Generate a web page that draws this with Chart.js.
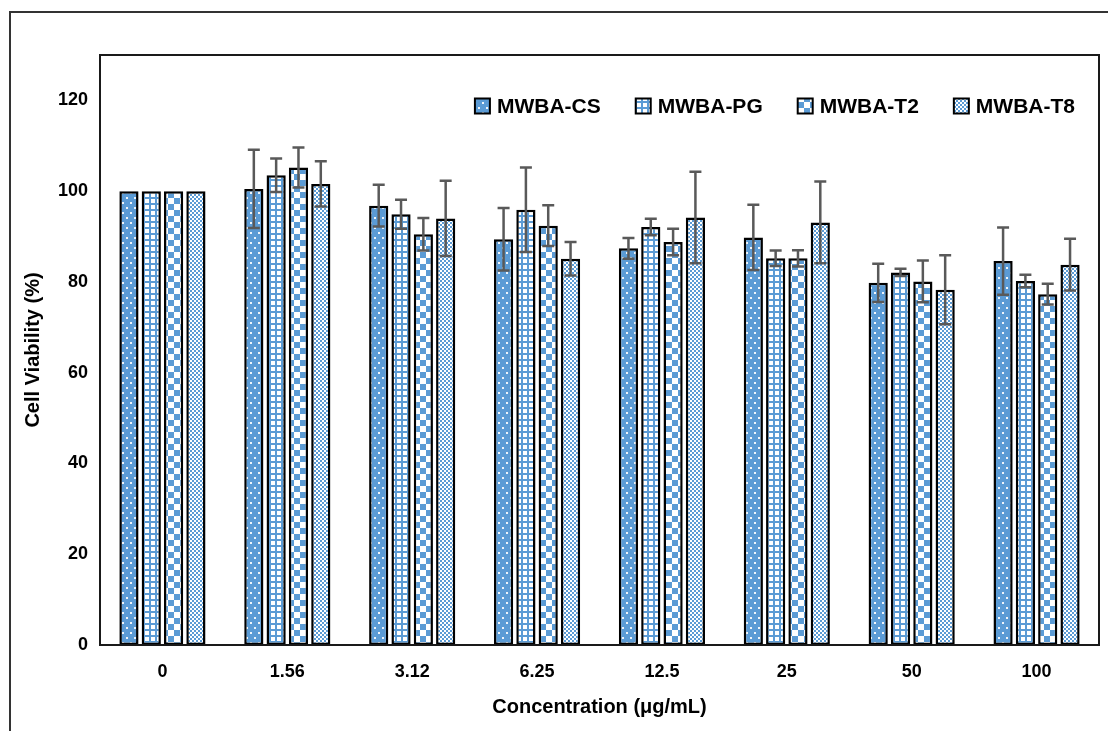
<!DOCTYPE html>
<html>
<head>
<meta charset="utf-8">
<script src="https://cdn.jsdelivr.net/npm/chart.js@4/dist/chart.umd.min.js"></script>
<style>
  html, body { margin: 0; padding: 0; background: #fff; }
  body { width: 1108px; height: 731px; position: relative; overflow: hidden; }
  .frame { position: absolute; left: 9px; top: 11px; width: 1200px; height: 800px;
           border-left: 2px solid #333; border-top: 2px solid #333; }
  #wrap { position: absolute; left: 0; top: 0; width: 1108px; height: 731px; }
</style>
</head>
<body>
<div class="frame"></div>
<div id="wrap"><canvas id="viabilityChart"></canvas></div>
<script>
// Data
var concentrations = ['0', '1.56', '3.12', '6.25', '12.5', '25', '50', '100'];
var seriesNames = ['MWBA-CS', 'MWBA-PG', 'MWBA-T2', 'MWBA-T8'];
var csValues = [100, 100.5, 96.8, 89.4, 87.4, 89.8, 79.8, 84.6];
var csErrors = [0, 8.6, 4.6, 6.9, 2.3, 7.2, 4.2, 7.4];
var pgValues = [100, 103.5, 94.9, 95.9, 92.1, 85.2, 82.1, 80.2];
var pgErrors = [0, 3.7, 3.2, 9.3, 1.8, 1.7, 0.8, 1.4];
var t2Values = [100, 105.2, 90.5, 92.4, 88.8, 85.2, 80.1, 77.3];
var t2Errors = [0, 4.4, 3.6, 4.5, 2.9, 1.8, 4.6, 2.3];
var t8Values = [100, 101.6, 94.0, 85.1, 94.2, 93.1, 78.3, 83.8];
var t8Errors = [0, 5.0, 8.3, 3.7, 10.1, 9.0, 7.6, 5.7];
var yTicks = [0, 20, 40, 60, 80, 100, 120];

var BLUE = '#5B9BD5';
var FONT = "'Liberation Sans', Arial, sans-serif";

// Fill patterns
function makeTile(w, h, draw) {
  var c = document.createElement('canvas');
  c.width = w; c.height = h;
  draw(c.getContext('2d'));
  return document.getElementById('viabilityChart').getContext('2d').createPattern(c, 'repeat');
}

var dotPattern = makeTile(8, 10, function (g) {
  g.fillStyle = BLUE; g.fillRect(0, 0, 8, 10);
  g.fillStyle = 'rgba(255,255,255,0.9)';
  g.fillRect(2, 2, 2, 2);
  g.fillRect(6, 7, 2, 2);
});
var gridPattern = makeTile(6, 6, function (g) {
  g.fillStyle = BLUE; g.fillRect(0, 0, 6, 6);
  g.fillStyle = '#fff'; g.fillRect(1, 1, 4, 4);
});
var checkPattern = makeTile(12, 12, function (g) {
  g.fillStyle = '#fff'; g.fillRect(0, 0, 12, 12);
  g.fillStyle = BLUE; g.fillRect(0, 0, 6, 6); g.fillRect(6, 6, 6, 6);
});
var finePattern = makeTile(4, 4, function (g) {
  g.fillStyle = '#fff'; g.fillRect(0, 0, 4, 4);
  g.fillStyle = BLUE; g.fillRect(0, 0, 2, 2); g.fillRect(2, 2, 2, 2);
});

var patterns = [dotPattern, gridPattern, checkPattern, finePattern];
var allValues = [csValues, pgValues, t2Values, t8Values];
var allErrors = [csErrors, pgErrors, t2Errors, t8Errors];

// Error bars drawn from the y scale
var errorBars = {
  id: 'errorBars',
  afterDatasetsDraw(chart) {
    var ctx = chart.ctx;
    var y = chart.scales.y;
    ctx.save();
    ctx.strokeStyle = '#595959';
    ctx.lineWidth = 2.5;
    chart.data.datasets.forEach(function (ds, i) {
      var meta = chart.getDatasetMeta(i);
      meta.data.forEach(function (bar, j) {
        var err = ds.errors[j];
        if (!err) return;
        var top = y.getPixelForValue(ds.data[j] + err);
        var bot = y.getPixelForValue(ds.data[j] - err);
        ctx.beginPath();
        ctx.moveTo(bar.x, top); ctx.lineTo(bar.x, bot);
        ctx.moveTo(bar.x - 6, top); ctx.lineTo(bar.x + 6, top);
        ctx.moveTo(bar.x - 6, bot); ctx.lineTo(bar.x + 6, bot);
        ctx.stroke();
      });
    });
    ctx.restore();
  }
};

// Plot frame and legend inside the plot area
var frameAndLegend = {
  id: 'frameAndLegend',
  afterDraw(chart) {
    var ctx = chart.ctx;
    var a = chart.chartArea;
    ctx.save();
    ctx.strokeStyle = '#1a1a1a';
    ctx.lineWidth = 2;
    ctx.strokeRect(a.left, a.top, a.right - a.left, a.bottom - a.top);

    ctx.font = 'bold 21px ' + FONT;
    ctx.textBaseline = 'middle';
    var box = 15, gap = 7, spacing = 35;
    var widths = seriesNames.map(function (n) { return ctx.measureText(n).width; });
    var total = widths.reduce(function (s, w) { return s + box + gap + w; }, 0) + spacing * (seriesNames.length - 1);
    var x = a.right - 24 - total;
    var cy = a.top + 51;
    seriesNames.forEach(function (name, i) {
      ctx.fillStyle = patterns[i];
      ctx.fillRect(x, cy - box / 2, box, box);
      ctx.lineWidth = 2;
      ctx.strokeStyle = '#000';
      ctx.strokeRect(x, cy - box / 2, box, box);
      ctx.fillStyle = '#000';
      ctx.fillText(name, x + box + gap, cy + 1);
      x += box + gap + widths[i] + spacing;
    });
    ctx.restore();
  }
};

var datasets = seriesNames.map(function (name, i) {
  return {
    label: name,
    data: allValues[i],
    errors: allErrors[i],
    backgroundColor: patterns[i],
    borderColor: '#000',
    borderWidth: 2.5,
    borderSkipped: false,
    categoryPercentage: 0.715,
    barPercentage: 0.86
  };
});

Chart.defaults.font.family = FONT;
Chart.defaults.color = '#000';

new Chart(document.getElementById('viabilityChart'), {
  type: 'bar',
  data: { labels: concentrations, datasets: datasets },
  options: {
    responsive: true,
    maintainAspectRatio: false,
    animation: false,
    layout: { padding: { left: 17, right: 9, top: 55, bottom: 12 } },
    plugins: { legend: { display: false }, tooltip: { enabled: false } },
    scales: {
      x: {
        grid: { display: false, drawTicks: false, tickLength: 0 },
        border: { display: false },
        afterFit: function (scale) { scale.height = 74; },
        ticks: { font: { size: 18, weight: 'bold' }, padding: 16 },
        title: { display: true, text: 'Concentration (μg/mL)', font: { size: 20, weight: 'bold' }, padding: { top: 12, bottom: 0 } }
      },
      y: {
        min: 0,
        max: 130,
        grid: { display: false, drawTicks: false, tickLength: 0 },
        border: { display: false },
        afterFit: function (scale) { scale.width = 83; },
        afterBuildTicks: function (scale) {
          scale.ticks = yTicks.map(function (v) { return { value: v }; });
        },
        ticks: { font: { size: 18, weight: 'bold' }, padding: 12 },
        title: { display: true, text: 'Cell Viability (%)', font: { size: 20, weight: 'bold' }, padding: { top: 4, bottom: 13 } }
      }
    }
  },
  plugins: [errorBars, frameAndLegend]
});
</script>
</body>
</html>
